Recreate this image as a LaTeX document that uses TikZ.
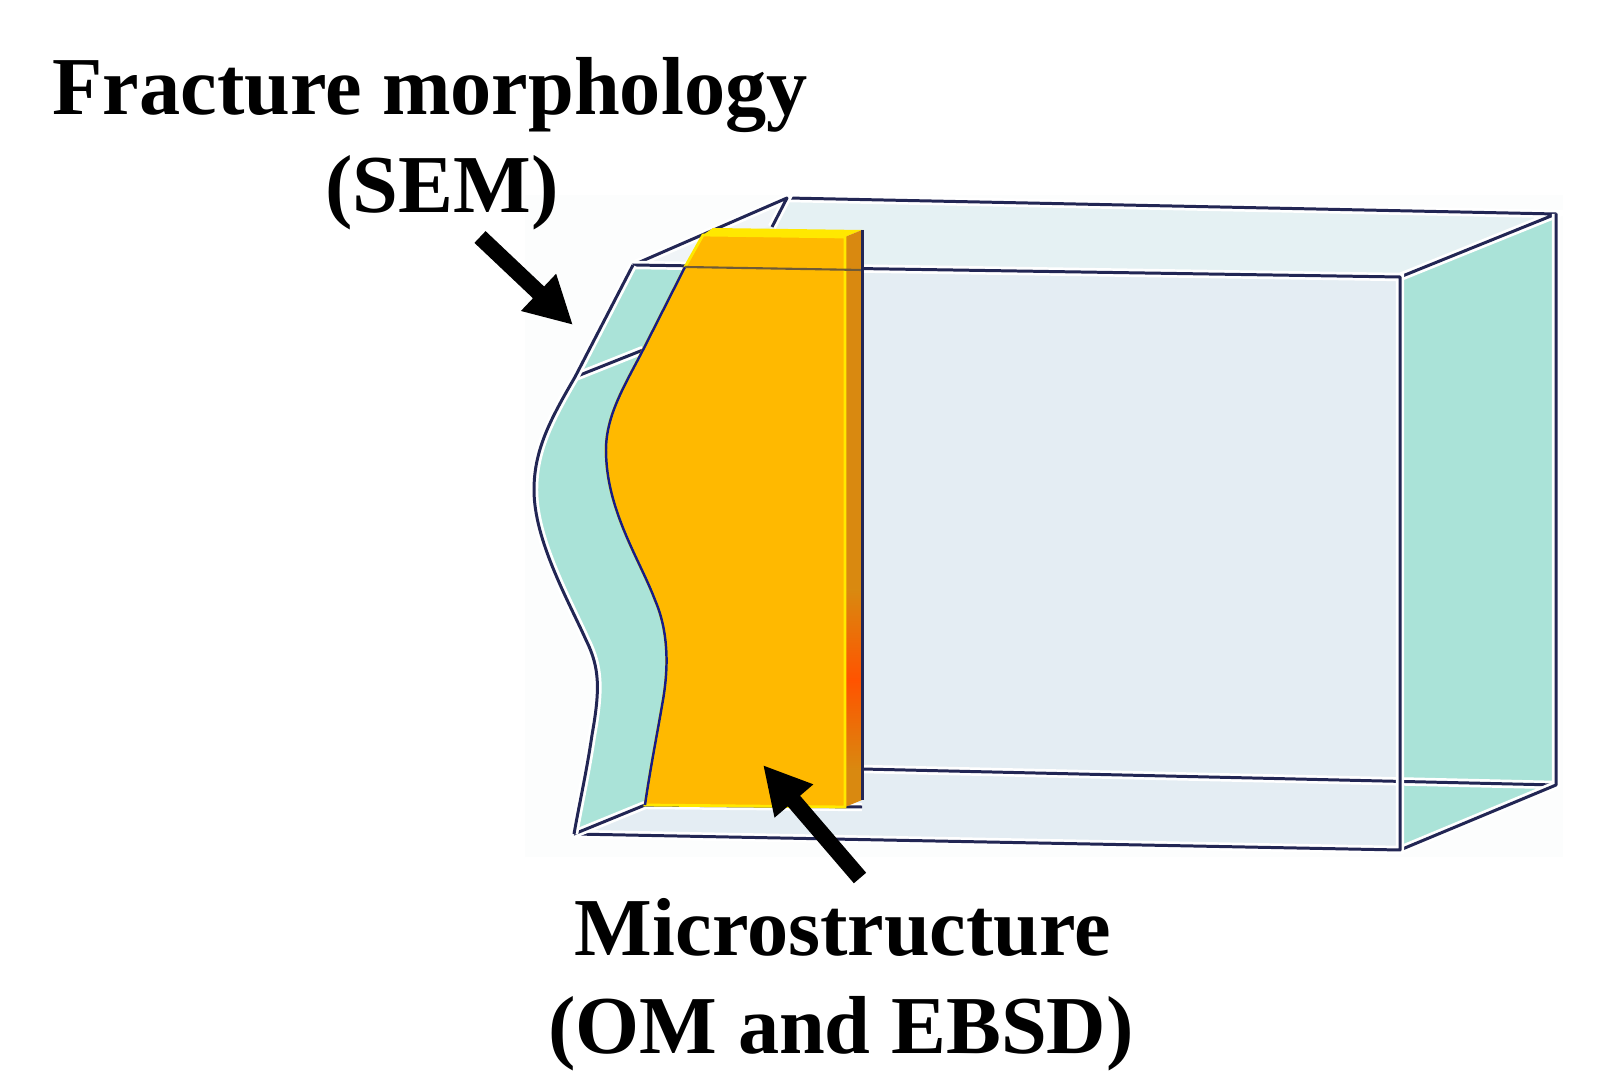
\documentclass[tikz,border=0pt]{standalone}
\usepackage{fontspec}
\setmainfont{Liberation Serif}
\usetikzlibrary{arrows.meta}
\definecolor{edgenavy}{RGB}{34, 38, 84}
\definecolor{paperwhite}{RGB}{252, 253, 253}
\definecolor{facegray}{RGB}{228, 237, 243}
\definecolor{toppale}{RGB}{229, 241, 243}
\definecolor{cornerpale}{RGB}{240, 244, 247}
\definecolor{faceteal}{RGB}{170, 227, 216}
\definecolor{sampleorange}{RGB}{255, 185, 0}
\definecolor{sampleyellow}{RGB}{255, 232, 0}
\definecolor{sampleside}{RGB}{217, 137, 16}
\tikzstyle{callout} = [font=\bfseries\fontsize{23.4}{28}\selectfont, text height=16pt,
    text depth=5pt, inner sep=0pt, node distance=0.98cm]
\tikzstyle{edge} = [draw=edgenavy, line width=0.85pt, line join=round,
    preaction={draw=white, line width=2.4pt}]
\tikzstyle{pointer} = [draw, line width=4.6pt, -{Triangle[length=13.5pt, width=13.5pt]}]

\begin{document}
\begin{tikzpicture}[x=0.01cm, y=-0.01cm]
  \useasboundingbox (0,0) rectangle (1619,1089);
  \fill [paperwhite] (525,195) rectangle (1563,857);
  % faces of the block
  \fill [toppale] (633,265) -- (787,198) -- (1556,214) -- (1400,277) -- cycle;
  \fill [cornerpale] (633,265) -- (787,198) -- (772,227) -- (703,235) -- (685,267) -- cycle;
  \fill [facegray] (685,267) -- (1400,277) -- (1400,850) -- (574,834) -- (645,805) -- cycle;
  \fill [faceteal] (1400,277) -- (1556,214) -- (1556,785) -- (1400,850) -- cycle;
  \fill [faceteal] (633,265) -- (575,377)
    .. controls (550,420) and (534,450) .. (534,490)
    .. controls (534,540) and (568,600) .. (586,640)
    .. controls (600,668) and (600,690) .. (592,735)
    .. controls (586,775) and (580,800) .. (574,834)
    -- (645,805)
    .. controls (650,770) and (657,735) .. (663,700)
    .. controls (669,665) and (668,630) .. (655,600)
    .. controls (640,560) and (606,510) .. (606,450)
    .. controls (606,415) and (625,385) .. (643,350)
    -- (685,267) -- cycle;
  % edges of the block
  \path [edge] (787,198) -- (1556,214) -- (1400,277);
  \path [edge] (633,265) -- (787,198) -- (772,227);
  \path [edge] (862,769) -- (1556,785);
  \path [edge] (1556,214) -- (1556,785) -- (1400,850);
  \path [edge] (633,265) -- (1400,277) -- (1400,850) -- (574,834);
  \path [edge] (574,834) -- (645,805);
  \path [edge] (645,805) -- (862,807);
  \path [edge] (575,377) -- (643,350);
  \path [edge] (633,265) -- (575,377)
    .. controls (550,420) and (534,450) .. (534,490)
    .. controls (534,540) and (568,600) .. (586,640)
    .. controls (600,668) and (600,690) .. (592,735)
    .. controls (586,775) and (580,800) .. (574,834);
  % sample
  \fill [sampleyellow] (703,235) -- (713,228) -- (862,230) -- (845,237) -- cycle;
  \fill [sampleside] (845,237) -- (862,230) -- (862,800) -- (845,807) -- cycle;
  \shade [top color=sampleside, bottom color=sampleside, middle color=red!55!sampleorange] (845,590) rectangle (862,770);
  \filldraw [draw=sampleyellow, line width=0.8pt, fill=sampleorange] (703,235) -- (845,237) -- (845,807) -- (645,805)
    .. controls (650,770) and (657,735) .. (663,700)
    .. controls (669,665) and (668,630) .. (655,600)
    .. controls (640,560) and (606,510) .. (606,450)
    .. controls (606,415) and (625,385) .. (643,350)
    -- (685,267) -- cycle;
  \draw [edgenavy!70!blue, line width=0.7pt] (645,805)
    .. controls (650,770) and (657,735) .. (663,700)
    .. controls (669,665) and (668,630) .. (655,600)
    .. controls (640,560) and (606,510) .. (606,450)
    .. controls (606,415) and (625,385) .. (643,350)
    -- (685,267);
  \draw [edgenavy!65!sampleorange, line width=0.6pt] (685,267) -- (862,270);
  \draw [edgenavy, line width=0.85pt] (862,230) -- (862,800);
  % labels
  \node [callout] (fracture) at (430,95) {Fracture morphology};
  \node [callout, below of=fracture, xshift=0.12cm] (sem) {(SEM)};
  \node [callout] (micro) at (843,936) {Microstructure};
  \node [callout, below of=micro, xshift=-0.02cm] (ombsd) {(OM and EBSD)};
  \coordinate (semtail) at (480,237);
  \coordinate (semtip) at (573,325);
  \coordinate (microtail) at (860,878);
  \coordinate (microtip) at (763,765);
  \path [pointer] (semtail) -- (semtip);
  \path [pointer] (microtail) -- (microtip);
\end{tikzpicture}
\end{document}
